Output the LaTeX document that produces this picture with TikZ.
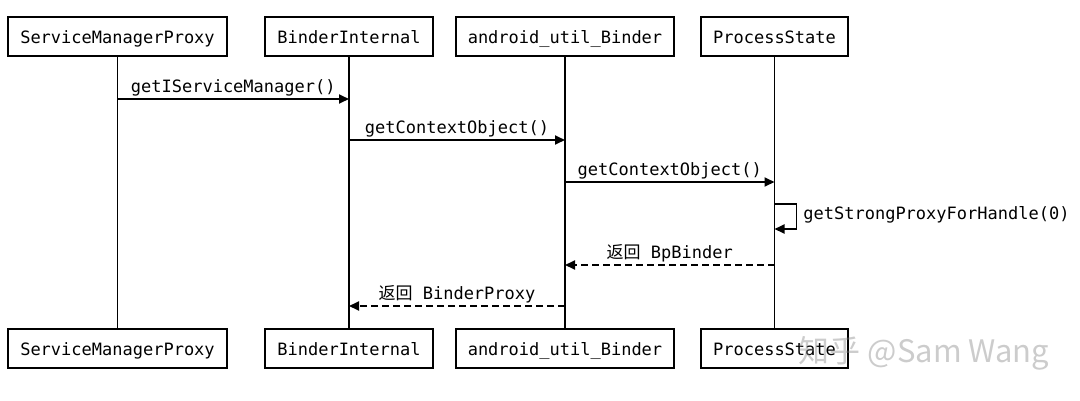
\documentclass[tikz,border=0pt]{standalone}
\usepackage{fontspec}
\setmonofont{DejaVu Sans Mono}
\newfontfamily\cjk{Noto Sans CJK SC}
\usetikzlibrary{arrows.meta,positioning}

\def\msgfont{\ttfamily\fontsize{17}{20}\selectfont}

\tikzset{
  actor/.style={draw, line width=1.8pt, minimum height=39pt, inner xsep=12pt,
    text height=14pt, text depth=0pt, font=\msgfont},
  life/.style={line width=1.8pt},
  msg/.style={line width=1.8pt, -{Triangle[length=10pt,width=9pt]}},
  ret/.style={msg, dash pattern=on 7pt off 4pt},
  lbl/.style={anchor=base, yshift=6.5pt, inner sep=0pt, font=\msgfont}
}

\begin{document}
\begin{tikzpicture}[x=1pt,y=-1pt]

  \useasboundingbox (0,0) rectangle (1080,400);

  \def\ytop{36.5}
  \def\ybot{348.5}
  \def\yone{99}; % calls
  \def\ytwo{140};
  \def\ythree{182};
  \def\yfour{204}; % self call
  \def\yfive{265}; % returns
  \def\ysix{306};

  \node[actor] (smpT) at (117.5,\ytop) {ServiceManagerProxy};
  \node[actor] (biT) at (349,\ytop) {BinderInternal};
  \node[actor] (aubT) at (565,\ytop) {android\_util\_Binder};
  \node[actor] (psT) at (774.5,\ytop) {ProcessState};

  \node[actor] (smpB) at (117.5,\ybot) {ServiceManagerProxy};
  \node[actor] (biB) at (349,\ybot) {BinderInternal};
  \node[actor] (aubB) at (565,\ybot) {android\_util\_Binder};
  \node[actor] (psB) at (774.5,\ybot) {ProcessState};

  \foreach \n in {smp,bi,aub,ps}
    \draw[life] (\n T) -- (\n B);

  \draw[msg] (smpT |- 0,\yone) -- node[lbl] {getIServiceManager()} (biT |- 0,\yone);
  \draw[msg] (biT |- 0,\ytwo) -- node[lbl] {getContextObject()} (aubT |- 0,\ytwo);
  \draw[msg] (aubT |- 0,\ythree) -- node[lbl] {getContextObject()} (psT |- 0,\ythree);

  \draw[msg] (psT |- 0,\yfour) -- ++(22,0)
    -- node[anchor=base west, xshift=6pt, yshift=-3pt, inner sep=0pt, font=\msgfont]
       {getStrongProxyForHandle(0)} ++(0,25) -- (psT |- 0,229);

  \draw[ret] (psT |- 0,\yfive) -- node[lbl] {{\cjk 返回} BpBinder} (aubT |- 0,\yfive);
  \draw[ret] (aubT |- 0,\ysix) -- node[lbl] {{\cjk 返回} BinderProxy} (biT |- 0,\ysix);

  \node[text=gray, opacity=0.4, font=\cjk\fontsize{31}{36}\selectfont] (wm) at (924,353) {知乎 @Sam Wang};

\end{tikzpicture}
\end{document}
